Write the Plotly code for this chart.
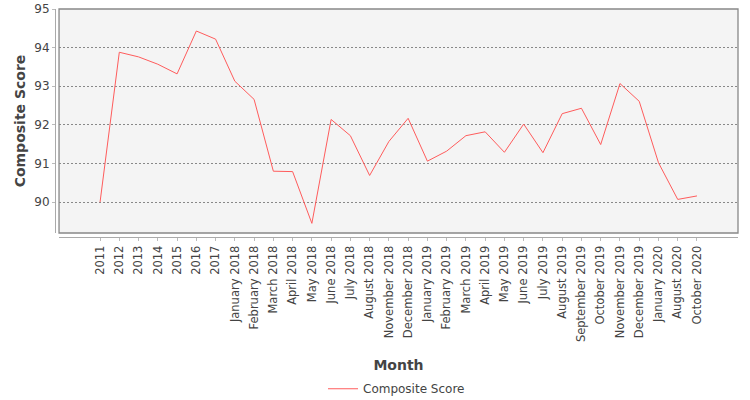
import plotly.graph_objects as go

# ─── Data ─────────────────────────────────────────────────────────────────────
MONTHS = [
    "2011", "2012", "2013", "2014", "2015", "2016", "2017",
    "January 2018", "February 2018", "March 2018", "April 2018", "May 2018",
    "June 2018", "July 2018", "August 2018", "November 2018", "December 2018",
    "January 2019", "February 2019", "March 2019", "April 2019", "May 2019",
    "June 2019", "July 2019", "August 2019", "September 2019", "October 2019",
    "November 2019", "December 2019", "January 2020", "August 2020", "October 2020",
]
COMPOSITE_SCORE = [
    90.00, 93.88, 93.76, 93.57, 93.32, 94.43, 94.22,
    93.13, 92.66, 90.80, 90.79, 89.45,
    92.14, 91.72, 90.69, 91.57, 92.17,
    91.06, 91.32, 91.72, 91.82, 91.29,
    92.02, 91.28, 92.29, 92.43, 91.49,
    93.07, 92.61, 91.02, 90.07, 90.16,
]

FONT = "DejaVu Sans"
TEXT = "#444444"

# ─── Figure ───────────────────────────────────────────────────────────────────
fig = go.Figure()
fig.add_trace(go.Scatter(
    x=list(range(len(MONTHS))),
    y=COMPOSITE_SCORE,
    mode="lines",
    name="Composite Score",
    line=dict(color="#ff5c5c", width=1),
))

# plot border (axes are offset a few px from it, JFreeChart style)
fig.add_shape(type="rect", xref="x domain", yref="y domain",
              x0=0, x1=1, y0=0, y1=1,
              line=dict(color="#888888", width=1.3), layer="above")

fig.update_layout(
    width=750, height=400,
    margin=dict(l=55, r=12, t=9, b=163, autoexpand=False),
    paper_bgcolor="white",
    plot_bgcolor="#f4f4f4",
    font=dict(family=FONT, size=11.5, color=TEXT),
    showlegend=True,
    legend=dict(orientation="h", x=0.5, xanchor="center", y=-0.602, yanchor="top",
                font=dict(size=12, color=TEXT)),
    xaxis=dict(
        domain=[0.0059, 1],
        anchor="free", position=0,
        automargin=False,
        range=[-2.13, 33.13],
        tickmode="array",
        tickvals=list(range(len(MONTHS))),
        ticktext=MONTHS,
        tickangle=-90,
        ticks="outside", ticklen=3, tickcolor="#bbbbbb",
        showline=True, linecolor="#aaaaaa", linewidth=1,
        showgrid=False, zeroline=False,
        title=dict(text="<b>Month</b>", font=dict(size=14, color=TEXT),
                   standoff=19),
    ),
    yaxis=dict(
        domain=[0.0175, 1],
        anchor="free", position=0,
        automargin=False,
        range=[89.2, 95],
        dtick=1,
        ticks="outside", ticklen=3, tickcolor="#bbbbbb",
        showline=True, linecolor="#aaaaaa", linewidth=1,
        showgrid=True, gridcolor="#888888", gridwidth=1, griddash="2px,2px",
        zeroline=False,
        tickfont=dict(size=12),
        title=dict(text="<b>Composite Score</b>", font=dict(size=14, color=TEXT),
                   standoff=4),
    ),
)

# drop the default 8px page margin so the 750x400 figure fills the window
fig.write_html("out.html", config={"displayModeBar": False},
               post_script="document.body.style.margin='0';")
